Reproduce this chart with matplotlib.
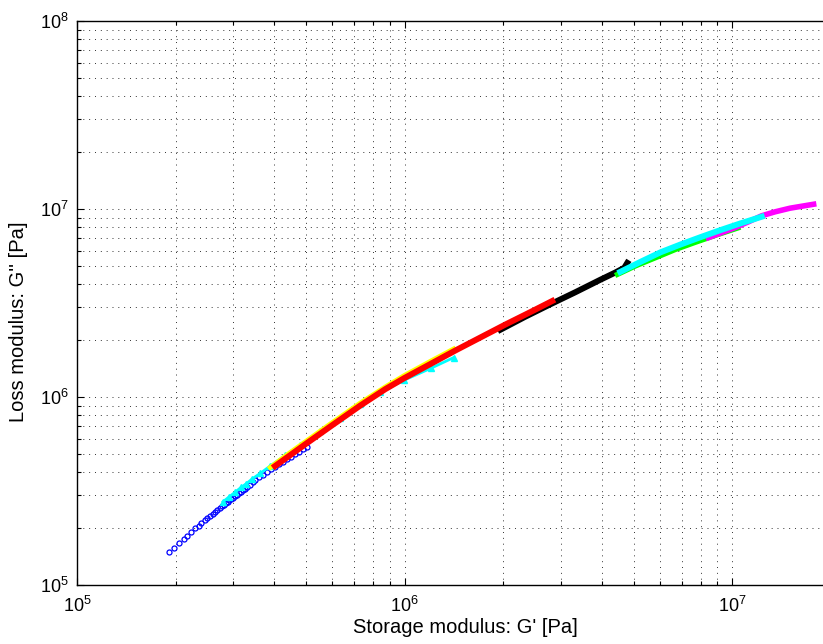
import matplotlib
matplotlib.use("Agg")
import matplotlib.pyplot as plt
from matplotlib.ticker import LogLocator, NullFormatter

plt.rcParams['font.family'] = ['Liberation Sans', 'DejaVu Sans']
plt.rcParams['mathtext.fontset'] = 'custom'
plt.rcParams['mathtext.rm'] = 'Liberation Sans'
plt.rcParams['mathtext.it'] = 'Liberation Sans'

# ---- data (G' storage modulus, G'' loss modulus, Pa) ----
blue_gp = [1.91e5, 1.98e5, 2.05e5, 2.12e5, 2.17e5, 2.23e5, 2.29e5, 2.35e5, 2.39e5,
           2.45e5, 2.50e5, 2.55e5, 2.60e5, 2.64e5, 2.68e5, 2.73e5, 2.77e5, 2.80e5,
           2.84e5, 2.88e5, 2.92e5, 2.95e5, 2.99e5, 3.03e5, 3.07e5, 3.12e5, 3.16e5,
           3.21e5, 3.26e5, 3.31e5, 3.37e5, 3.44e5, 3.50e5, 3.60e5, 3.70e5, 3.80e5,
           3.91e5, 4.02e5, 4.14e5, 4.26e5, 4.38e5, 4.50e5, 4.63e5, 4.76e5, 4.90e5,
           5.04e5]
blue_gpp = [1.49e5, 1.57e5, 1.67e5, 1.76e5, 1.83e5, 1.91e5, 2.00e5, 2.07e5, 2.14e5,
            2.21e5, 2.27e5, 2.33e5, 2.40e5, 2.46e5, 2.51e5, 2.57e5, 2.62e5, 2.67e5,
            2.72e5, 2.76e5, 2.82e5, 2.86e5, 2.90e5, 2.96e5, 3.01e5, 3.07e5, 3.13e5,
            3.19e5, 3.25e5, 3.33e5, 3.41e5, 3.51e5, 3.60e5, 3.74e5, 3.87e5, 4.00e5,
            4.12e5, 4.25e5, 4.38e5, 4.52e5, 4.66e5, 4.81e5, 4.96e5, 5.11e5, 5.27e5,
            5.44e5]

cyan1_gp = [2.79e5, 2.91e5, 3.04e5, 3.17e5, 3.28e5, 3.42e5, 3.62e5, 3.89e5, 4.32e5,
            4.80e5, 5.52e5, 6.35e5, 7.31e5, 8.42e5, 9.97e5, 1.20e6, 1.41e6]
cyan1_gpp = [2.77e5, 2.94e5, 3.12e5, 3.31e5, 3.45e5, 3.66e5, 3.92e5, 4.30e5, 4.89e5,
             5.55e5, 6.57e5, 7.76e5, 9.16e5, 1.06e6, 1.23e6, 1.42e6, 1.62e6]

yellow_gp = [3.89e5, 4.47e5, 4.97e5, 5.92e5, 7.31e5, 8.72e5, 9.97e5, 1.20e6, 1.41e6]
yellow_gpp = [4.22e5, 5.06e5, 5.77e5, 7.17e5, 9.27e5, 1.13e6, 1.30e6, 1.55e6, 1.80e6]

red_gp = [4.02e5, 4.47e5, 4.97e5, 5.92e5, 7.31e5, 8.72e5, 9.97e5, 1.20e6, 1.43e6,
          1.70e6, 2.03e6, 2.42e6, 2.82e6]
red_gpp = [4.29e5, 4.90e5, 5.60e5, 6.95e5, 8.99e5, 1.10e6, 1.26e6, 1.50e6, 1.77e6,
           2.07e6, 2.43e6, 2.83e6, 3.24e6]

black_gp = [1.96e6, 2.33e6, 2.78e6, 3.32e6, 3.95e6, 4.39e6, 4.68e6, 4.78e6]
black_gpp = [2.28e6, 2.67e6, 3.11e6, 3.61e6, 4.20e6, 4.59e6, 4.87e6, 5.17e6]

green_gp = [4.46e6, 5.06e6, 5.82e6, 6.70e6, 7.71e6, 9.00e6, 1.04e7]
green_gpp = [4.49e6, 4.98e6, 5.50e6, 6.09e6, 6.65e6, 7.30e6, 7.93e6]

cyan2_gp = [4.55e6, 5.24e6, 6.03e6, 6.94e6, 7.99e6, 9.19e6, 1.06e7, 1.23e7]
cyan2_gpp = [4.63e6, 5.23e6, 5.88e6, 6.47e6, 7.08e6, 7.72e6, 8.39e6, 9.10e6]

magenta_gp = [8.45e6, 9.32e6, 1.02e7, 1.12e7, 1.23e7, 1.35e7, 1.50e7, 1.77e7]
magenta_gpp = [7.04e6, 7.51e6, 7.97e6, 8.55e6, 9.21e6, 9.66e6, 1.01e7, 1.06e7]

x_label = "Storage modulus: G' [Pa]"
y_label = "Loss modulus: G'' [Pa]"

# ---- figure ----
W, H = 823, 644
fig = plt.figure(figsize=(W / 100, H / 100), dpi=100)
ax_left, ax_right, ax_bottom, ax_top = 77, 831, 585, 21
ax = fig.add_axes([ax_left / W, (H - ax_bottom) / H,
                   (ax_right - ax_left) / W, (ax_bottom - ax_top) / H])
ax.set_xscale('log')
ax.set_yscale('log')
ax.set_xlim(1e5, 2e7)
ax.set_ylim(1e5, 1e8)

ax.plot(blue_gp, blue_gpp, linestyle='none', marker='o', markersize=3.6,
        markerfacecolor='none', markeredgecolor=(0, 0, 1), markeredgewidth=0.9, zorder=3)
ax.plot(cyan1_gp, cyan1_gpp, color=(0, 1, 1), linewidth=2.0, marker='^',
        markersize=3.8, zorder=4)
ax.plot(yellow_gp, yellow_gpp, color=(1, 1, 0), linewidth=3.5, zorder=5)
ax.plot(black_gp, black_gpp, color='k', linewidth=4.3, zorder=6)
ax.plot(red_gp, red_gpp, color=(1, 0, 0), linewidth=4.3, zorder=7)
ax.plot(green_gp, green_gpp, color=(0, 1, 0), linewidth=3.8, zorder=8)
ax.plot(magenta_gp, magenta_gpp, color=(1, 0, 1), linewidth=4.0, zorder=9)
ax.plot(cyan2_gp, cyan2_gpp, color=(0, 1, 1), linewidth=4.3, zorder=10)

ax.xaxis.set_major_locator(LogLocator(base=10, numticks=10))
ax.yaxis.set_major_locator(LogLocator(base=10, numticks=10))
ax.xaxis.set_minor_locator(LogLocator(base=10, subs=range(2, 10), numticks=20))
ax.yaxis.set_minor_locator(LogLocator(base=10, subs=range(2, 10), numticks=20))
ax.xaxis.set_minor_formatter(NullFormatter())
ax.yaxis.set_minor_formatter(NullFormatter())

ax.grid(True, which='both', linestyle=(0, (1, 5)), color='0.2', linewidth=0.7, zorder=0)
ax.set_axisbelow(True)
ax.tick_params(which='both', direction='in', top=True, right=True, labelsize=13,
               width=0.8, colors='k')
ax.tick_params(which='major', length=5)
ax.tick_params(which='minor', length=3)
ax.tick_params(axis='x', which='major', pad=8)
ax.tick_params(axis='y', which='major', pad=6)
for s in ax.spines.values():
    s.set_linewidth(1.0)

axw = ax_right - ax_left
axh = ax_bottom - ax_top
ax.set_xlabel(x_label, fontsize=14.5)
ax.set_ylabel(y_label, fontsize=14.5)
ax.xaxis.set_label_coords((465 - ax_left) / axw, -(618 - ax_bottom) / axh)
ax.yaxis.set_label_coords(-(ax_left - 28) / axw, (ax_bottom - 322) / axh)

fig.savefig('out.png', dpi=100)
